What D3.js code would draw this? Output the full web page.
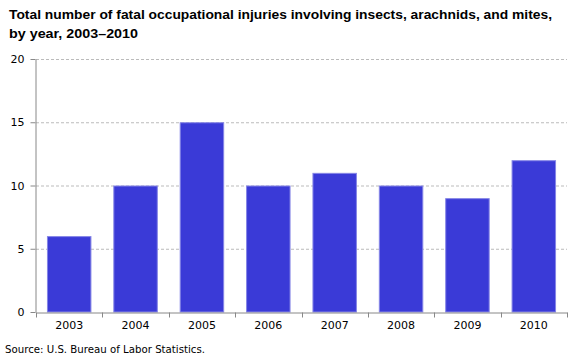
<!DOCTYPE html>
<html><head><meta charset="utf-8">
<script src="https://cdn.jsdelivr.net/npm/d3@7"></script>
<style>body{margin:0;background:#fff}svg{display:block}</style>
</head><body>
<svg id="c" width="581" height="362"></svg>
<script>
const years = ["2003","2004","2005","2006","2007","2008","2009","2010"];
const fatalities = [6,10,15,10,11,10,9,12];
const yTicks = [0,5,10,15,20];
const titleLines = ["Total number of fatal occupational injuries involving insects, arachnids, and mites,","by year, 2003\u20132010"];
const sourceText = "Source: U.S. Bureau of Labor Statistics.";

const svg = d3.select("#c");
const m = {l:36, r:567, t:59, b:312};
const x = d3.scaleBand().domain(years).range([m.l, m.r]).paddingInner(0.33).paddingOuter(0.165);
const y = d3.scaleLinear().domain([0,20]).range([m.b, m.t]);

// title
svg.append("g").selectAll("text").data(titleLines).join("text")
  .attr("x", 9).attr("y", (d,i)=>19+i*19)
  .attr("font-family","Liberation Sans, Arial, sans-serif").attr("font-weight","bold")
  .attr("font-size",13.5).attr("fill","#000").text(d=>d)
  .each(function(d,i){ if(i===0){ d3.select(this).attr("textLength",543).attr("lengthAdjust","spacingAndGlyphs"); } else { d3.select(this).attr("textLength",129).attr("lengthAdjust","spacingAndGlyphs"); } });

// grid
svg.append("g").selectAll("line").data(yTicks.filter(d=>d>0)).join("line")
  .attr("x1", m.l).attr("x2", m.r).attr("y1", d=>y(d)+0.5).attr("y2", d=>y(d)+0.5)
  .attr("stroke","#bbb").attr("stroke-dasharray","3,2");

// bars
svg.append("g").selectAll("rect").data(fatalities).join("rect")
  .attr("x",(d,i)=>x(years[i])+0.5).attr("y",d=>y(d)+0.5)
  .attr("width",x.bandwidth()-1).attr("height",d=>y(0)-y(d)-0.5)
  .attr("fill","#3a3ad7").attr("stroke","#8585e6").attr("stroke-width",1);

// y axis
const ya = svg.append("g").attr("transform",`translate(${m.l-0.5},0)`)
  .call(d3.axisLeft(y).tickValues(yTicks).tickSize(5).tickPadding(6).tickSizeOuter(0));
ya.select(".domain").attr("stroke","#888");
ya.selectAll(".tick line").attr("stroke","#888");
ya.selectAll(".tick text").attr("font-family","DejaVu Sans, Verdana, sans-serif").attr("font-size",11).attr("fill","#000");

// x axis
const xa = svg.append("g").attr("transform",`translate(0,${m.b+0.5})`)
  .call(d3.axisBottom(x).tickSize(0).tickPadding(9));
xa.select(".domain").attr("stroke","#888");
xa.selectAll(".tick text").attr("font-family","DejaVu Sans, Verdana, sans-serif").attr("font-size",11).attr("fill","#000");
const step = x.step();
const bounds = d3.range(years.length+1).map(i=>m.l + i*(m.r-m.l)/years.length);
xa.append("g").selectAll("line").data(bounds).join("line")
  .attr("x1",d=>Math.round(d)+0.5).attr("x2",d=>Math.round(d)+0.5).attr("y1",0).attr("y2",5)
  .attr("stroke","#888");

// source
svg.append("text").attr("x",5).attr("y",353)
  .attr("font-family","DejaVu Sans, Verdana, sans-serif").attr("font-size",10.5)
  .attr("textLength",200).attr("lengthAdjust","spacingAndGlyphs")
  .attr("fill","#000").text(sourceText);
</script>
</body></html>
